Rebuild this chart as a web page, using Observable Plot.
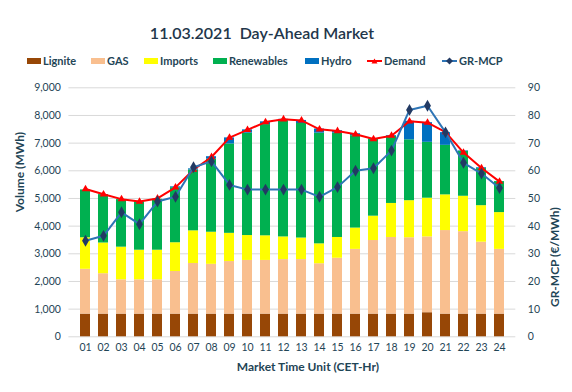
<!DOCTYPE html>
<html><head><meta charset="utf-8">
<script src="https://cdn.jsdelivr.net/npm/d3@7"></script>
<script src="https://cdn.jsdelivr.net/npm/@observablehq/plot@0.6"></script>
<style>
body{margin:0;background:#fff;font-family:Lato,"Noto Sans",sans-serif;}
#wrap{position:relative;width:572px;height:392px;overflow:hidden;background:#fff}
#title{position:absolute;top:23px;left:0;width:524px;text-align:center;font-size:16px;font-weight:600;color:#22364a;white-space:pre;line-height:20px}
#legend{position:absolute;top:53px;left:0;width:572px;height:15px}
.item{position:absolute;top:0;font-size:11px;font-weight:bold;color:#1f4556;line-height:15px;white-space:nowrap}
.sw{display:inline-block;width:14px;height:6px;vertical-align:middle;margin-right:2px;position:relative;top:-1px}
.ln{display:inline-block;vertical-align:middle;margin-right:2px;position:relative;top:-1px}
#chart{position:absolute;top:75px;left:0}
</style></head><body>
<div id="wrap">
  <div id="title">11.03.2021  Day-Ahead Market</div>
  <div id="legend"></div>
  <div id="chart"></div>
</div>
<script>
const hours = ["01","02","03","04","05","06","07","08","09","10","11","12","13","14","15","16","17","18","19","20","21","22","23","24"];
const series = ["Lignite","GAS","Imports","Renewables","Hydro"];
const seriesColors = ["#974706","#f9bf8f","#ffff00","#00b050","#0070c0"];
const lignite    = [820,820,820,820,820,820,820,820,820,820,820,820,820,820,820,820,820,820,820,870,820,820,820,820];
const gas        = [1620,1460,1240,1240,1240,1540,1830,1800,1900,1940,1940,1970,1970,1820,2020,2340,2660,2770,2760,2740,3020,2980,2600,2340];
const imports    = [1140,1110,1180,1070,1070,1040,1180,1160,1020,900,890,820,780,720,750,770,880,1230,1340,1400,1290,1280,1320,1330];
const renewables = [1730,1750,1720,1750,1840,1990,2200,2640,3230,3700,4020,4200,4140,4000,3770,3340,2780,2420,2200,2020,1790,1620,1340,1120];
const hydro      = [0,0,0,0,0,30,40,90,220,120,100,50,110,150,90,70,20,30,670,710,460,20,30,0];
const demand     = [5340,5150,4975,4890,5000,5400,6040,6500,7200,7480,7760,7865,7820,7500,7440,7320,7150,7270,7790,7740,7400,6660,6100,5610];
const mcp        = [34.7,36.5,45.0,40.7,48.9,50.6,61.3,63.4,54.9,53.2,53.2,53.2,53.2,50.6,54.1,60.0,60.9,67.3,82.0,83.5,73.9,62.9,59.0,53.8];
const volumeTicks = [0,1000,2000,3000,4000,5000,6000,7000,8000,9000];
const priceTicks  = [0,10,20,30,40,50,60,70,80,90];

const bySeries = [lignite, gas, imports, renewables, hydro];
const long = [];
hours.forEach((h, i) => series.forEach((s, j) => long.push({hour: h, source: s, value: bySeries[j][i]})));
const pts = hours.map((h, i) => ({hour: h, demand: demand[i], mcp: mcp[i]}));

const txt = "#1f4556";
const font = "Lato, 'Noto Sans', sans-serif";

const chart = Plot.plot({
  width: 572, height: 317,
  marginTop: 12.3, marginBottom: 55.7, marginLeft: 68.4, marginRight: 56.7,
  style: {fontFamily: font, fontSize: "10.5px", color: txt, background: "transparent"},
  x: {type: "band", domain: hours, padding: 0.46, label: null, axis: null},
  y: {domain: [0, 9000], label: null, axis: null},
  color: {domain: series, range: seriesColors},
  marks: [
    Plot.ruleY(volumeTicks, {stroke: "#d9d9d9", strokeWidth: 1}),
    Plot.barY(long, {x: "hour", y: "value", fill: "source", order: series}),
    Plot.line(pts, {x: "hour", y: "demand", stroke: "#ff0000", strokeWidth: 2}),
    Plot.dot(pts, {x: "hour", y: "demand", symbol: "triangle", r: 2.8, fill: "#ff0000"}),
    Plot.line(pts, {x: "hour", y: d => d.mcp * 100, stroke: "#2e75b6", strokeWidth: 2}),
    Plot.dot(pts, {x: "hour", y: d => d.mcp * 100, symbol: "diamond", r: 3.6, fill: "#223a63"}),
    Plot.axisX({tickSize: 0, tickPadding: 7, label: null, fontSize: "10.5px"}),
    Plot.axisY({anchor: "left", ticks: volumeTicks, tickFormat: d3.format(","), tickSize: 0, tickPadding: 8, label: null}),
    Plot.axisY({anchor: "right", ticks: priceTicks.map(v => v * 100), tickFormat: d => String(d / 100), tickSize: 0, tickPadding: 12, label: null}),
    Plot.text(["Volume (MWh)"], {frameAnchor: "left", dx: -48.4, dy: 0, rotate: -90, fontWeight: "bold", fontSize: 12, fill: txt}),
    Plot.text(["GR-MCP (€/MWh)"], {frameAnchor: "right", dx: 39.7, dy: -5, rotate: -90, fontWeight: "bold", fontSize: 12, fill: txt}),
    Plot.text(["Market Time Unit (CET-Hr)"], {frameAnchor: "bottom", dx: 15.6, dy: 34, fontWeight: "bold", fontSize: 12, fill: txt})
  ]
});
document.getElementById("chart").appendChild(chart);

// legend
const legend = document.getElementById("legend");
const legendLefts = [27, 91, 144, 213, 305, 367, 442];
const legendItems = [
  ...series.map((s, i) => ({name: s, kind: "box", color: seriesColors[i]})),
  {name: "Demand", kind: "line", color: "#ff0000", marker: "tri", mcolor: "#ff0000"},
  {name: "GR-MCP", kind: "line", color: "#2e75b6", marker: "dia", mcolor: "#223a63"}
];
legendItems.forEach((it, i) => {
  const el = document.createElement("div");
  el.className = "item";
  el.style.left = legendLefts[i] + "px";
  if (it.kind === "box") {
    el.innerHTML = `<span class="sw" style="background:${it.color}"></span>${it.name}`;
  } else {
    const m = it.marker === "tri"
      ? `<path d="M7.5,1.5 L10.5,6.5 L4.5,6.5 Z" fill="${it.mcolor}"/>`
      : `<path d="M7.5,0.5 L11,4 L7.5,7.5 L4,4 Z" fill="${it.mcolor}"/>`;
    el.innerHTML = `<svg class="ln" width="15" height="8"><line x1="0" y1="4" x2="15" y2="4" stroke="${it.color}" stroke-width="2"/>${m}</svg>${it.name}`;
  }
  legend.appendChild(el);
});
</script>
</body></html>
